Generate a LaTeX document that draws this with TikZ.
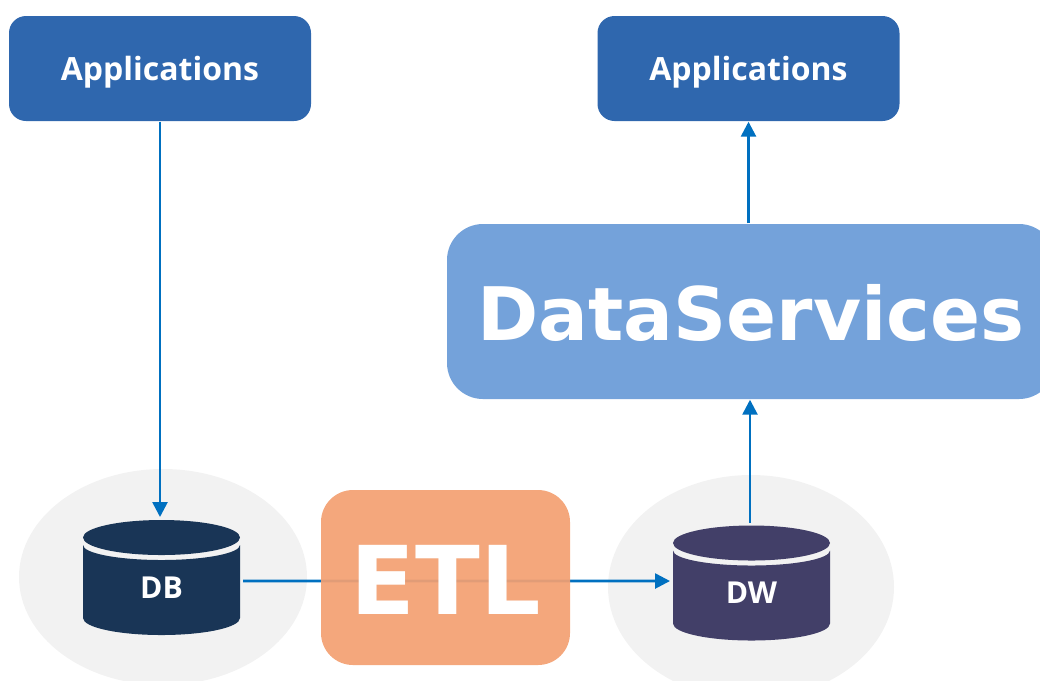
\documentclass[tikz,border=0pt]{standalone}
\usepackage{fontspec}
\setmainfont{Open Sans}
\newfontfamily\widefont{DejaVu Sans}
\usetikzlibrary{arrows.meta}
\definecolor{appblue}{HTML}{2F67AE}
\definecolor{svcblue}{HTML}{74A2DA}
\definecolor{etlorange}{HTML}{F3A072}
\definecolor{dbnavy}{HTML}{193556}
\definecolor{dwpurple}{HTML}{423F68}
\definecolor{halo}{HTML}{F2F2F2}
\definecolor{linkblue}{HTML}{0070C0}
\tikzset{
  appbox/.style={fill=appblue,rounded corners=.17cm,minimum width=3.02cm,minimum height=1.05cm,inner sep=0,text=white,text depth=0pt,font=\fontsize{9.1}{11}\selectfont\bfseries},
  svcbox/.style={fill=svcblue,rounded corners=.36cm,minimum width=6.08cm,minimum height=1.75cm,inner sep=0,text=white,text height=16.9pt,font=\widefont\fontsize{21}{25}\selectfont\bfseries},
  etlbox/.style={fill=etlorange,fill opacity=.93,text opacity=1,rounded corners=.32cm,minimum width=2.49cm,minimum height=1.75cm,inner sep=0,text=white,text height=20.8pt,font=\widefont\fontsize{27}{30}\selectfont\bfseries},
  storebox/.style={minimum width=1.57cm,minimum height=1.15cm,inner sep=0,outer sep=.03cm},
  storetext/.style={inner sep=0,text=white,font=\fontsize{8.6}{10}\selectfont\bfseries},
  link/.style={draw=linkblue,line width=.75pt,-{Triangle[length=.15cm,width=.15cm]}}
}
\begin{document}
\begin{tikzpicture}
  \useasboundingbox (0,0) rectangle (10.4,6.8);
  \clip (0,0) rectangle (10.4,6.8);
  \fill[halo] (1.63,1.03) ellipse (1.44cm and 1.08cm);
  \fill[halo] (7.51,.93) ellipse (1.43cm and 1.12cm);
  \foreach \x/\y/\c in {1.615/1.225/dbnavy,7.515/1.17/dwpurple}{
    \fill[\c] (\x,\y+.2) ellipse (.785cm and .175cm);
    \fill[\c] (\x-.785,\y+.125) arc[start angle=180,end angle=360,x radius=.785,y radius=.15]
      -- (\x+.785,\y-.605) arc[start angle=0,end angle=-180,x radius=.785,y radius=.17] -- cycle;
  }
  \node[storebox] (db) at (1.615,1.025) {};
  \node[storebox] (dw) at (7.515,.97) {};
  \node[storetext] (dbtext) at (1.615,.925) {DB};
  \node[storetext] (dwtext) at (7.515,.875) {DW};
  \node[appbox] (appleft) at (1.6,6.115) {Applications};
  \node[appbox] (appright) at (7.485,6.115) {Applications};
  \node[svcbox] (svc) at (7.51,3.685) {DataServices};
  \draw[link] ([yshift=-.035cm]db.east) -- ([yshift=.02cm]dw.west);
  \node[etlbox] (etl) at (4.455,1.025) {ETL};
  \draw[link] (appleft.south) -- (appleft.south |- db.north);
  \draw[link] ([xshift=-.015cm]dw.north) -- ([xshift=-.015cm]dw.north |- svc.south);
  \draw[link] (appright.south |- svc.north) -- (appright.south);
\end{tikzpicture}
\end{document}
